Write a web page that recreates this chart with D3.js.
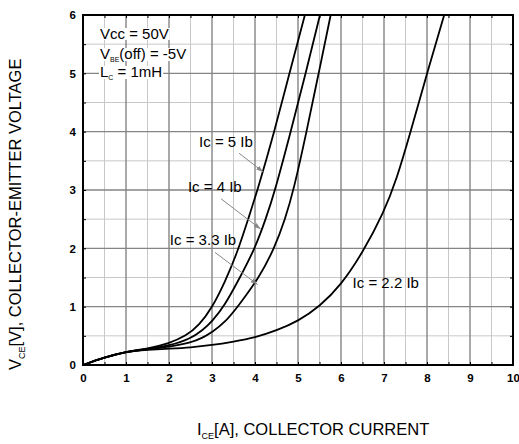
<!DOCTYPE html>
<html><head><meta charset="utf-8">
<script src="https://cdn.jsdelivr.net/npm/d3@7"></script>
<style>
body{margin:0;background:#fff;}
text{font-family:Arial,"Liberation Sans",sans-serif;}
</style></head>
<body>
<svg id="c" width="519" height="444"></svg>
<script>
// ---- data ----
const xTicks = [0,1,2,3,4,5,6,7,8,9,10];
const yTicks = [0,1,2,3,4,5,6];
const seriesNames = ["Ic = 5 Ib","Ic = 4 Ib","Ic = 3.3 Ib","Ic = 2.2 Ib"];
const ic5_I  = [0,0.5,1,1.5,2,2.4,2.7,3.0,3.3,3.6,3.84,4.06,4.45,4.8,5.16];
const ic5_V  = [0,0.13,0.23,0.28,0.37,0.5,0.68,0.98,1.42,1.95,2.5,3,4,5,6];
const ic4_I  = [0,0.5,1,1.5,2,2.5,2.79,3.0,3.28,3.65,4.0,4.25,4.47,4.83,5.18,5.51];
const ic4_V  = [0,0.13,0.23,0.27,0.33,0.45,0.6,0.75,1,1.5,2,2.5,3,4,5,6];
const ic33_I = [0,0.5,1,1.5,2,2.5,2.79,3.0,3.3,3.6,4.1,4.45,4.7,4.9,5.2,5.48,5.76];
const ic33_V = [0,0.13,0.23,0.27,0.31,0.38,0.47,0.56,0.73,1,1.5,2,2.5,3,4,5,6];
const ic22_I = [0,0.5,1,1.5,2,2.5,3,3.5,4,4.5,5,5.5,6,6.5,7,7.3,7.6,8,8.4];
const ic22_V = [0,0.13,0.23,0.26,0.28,0.3,0.34,0.4,0.47,0.59,0.75,1.0,1.37,1.92,2.62,3.2,3.95,5,6];
const condLines = [["Vcc = 50V"],["V","BE","(off) = -5V"],["L","C"," = 1mH"]];

// ---- layout ----
const svg = d3.select("#c");
const x = d3.scaleLinear().domain([0,10]).range([83,513]);
const y = d3.scaleLinear().domain([0,6]).range([365,15]);

// grid
const minorX = d3.range(0.5,10,1), minorY = d3.range(0.5,6,1);
const g = svg.append("g");
g.selectAll(".mx").data(minorX).join("line").attr("x1",d=>x(d)).attr("x2",d=>x(d)).attr("y1",y(0)).attr("y2",y(6)).attr("stroke","#c8c8c8").attr("stroke-width",1);
g.selectAll(".my").data(minorY).join("line").attr("y1",d=>y(d)).attr("y2",d=>y(d)).attr("x1",x(0)).attr("x2",x(10)).attr("stroke","#c8c8c8").attr("stroke-width",1);
g.selectAll(".Mx").data(xTicks.slice(1,-1)).join("line").attr("x1",d=>x(d)).attr("x2",d=>x(d)).attr("y1",y(0)).attr("y2",y(6)).attr("stroke","#858585").attr("stroke-width",1.4);
g.selectAll(".My").data(yTicks.slice(1,-1)).join("line").attr("y1",d=>y(d)).attr("y2",d=>y(d)).attr("x1",x(0)).attr("x2",x(10)).attr("stroke","#858585").attr("stroke-width",1.4);

// condition text with white background
const condBg = svg.append("g"), cond = svg.append("g");
const condBase = [39,59,77];
condLines.forEach((parts,i)=>{
  const t = cond.append("text").attr("x",x(0)+17).attr("y",condBase[i]).attr("font-size",15).attr("fill","#000");
  if(parts.length===1){ t.text(parts[0]); }
  else {
    t.append("tspan").text(parts[0]);
    t.append("tspan").attr("font-size",7).attr("dy",3).text(parts[1]);
    t.append("tspan").attr("dy",-3).text(parts[2]);
  }
  const bb = t.node().getBBox();
  condBg.append("rect").attr("x",bb.x-1).attr("y",bb.y+3).attr("width",bb.width+2).attr("height",bb.height-5).attr("fill","#fff");
});

// curves
const line = d3.line().x(d=>x(d[0])).y(d=>y(d[1])).curve(d3.curveBasis);
const curves = [[ic5_I,ic5_V],[ic4_I,ic4_V],[ic33_I,ic33_V],[ic22_I,ic22_V]];
svg.append("g").selectAll("path").data(curves).join("path")
  .attr("d",c=>line(d3.zip(c[0],c[1])))
  .attr("fill","none").attr("stroke","#000").attr("stroke-width",1.8);

// labels & arrows
svg.append("defs").append("marker").attr("id","ah").attr("viewBox","0 0 10 10").attr("refX",10).attr("refY",5)
  .attr("markerWidth",7).attr("markerHeight",7).attr("orient","auto")
  .append("path").attr("d","M0,1.5L10,5L0,8.5z").attr("fill","#888");
const labelPos = [[2.7,3.74],[2.44,2.97],[2.02,2.06],[6.27,1.32]];
const arrows = [[[3.63,3.63],[4.19,3.31]],[[3.21,2.85],[4.13,2.33]],[[3.07,1.93],[4.06,1.38]]];
svg.append("g").selectAll("text").data(seriesNames).join("text")
  .attr("x",(d,i)=>x(labelPos[i][0])).attr("y",(d,i)=>y(labelPos[i][1]))
  .attr("font-size",15).text(d=>d);
svg.append("g").selectAll("line").data(arrows).join("line")
  .attr("x1",d=>x(d[0][0])).attr("y1",d=>y(d[0][1])).attr("x2",d=>x(d[1][0])).attr("y2",d=>y(d[1][1]))
  .attr("stroke","#888").attr("stroke-width",1).attr("marker-end","url(#ah)");

// inward small ticks on all sides
const allX = d3.range(0,10.01,0.5), allY = d3.range(0,6.01,0.5);
svg.append("g").attr("transform",`translate(0,${y(0)})`).call(d3.axisBottom(x).tickValues(allX).tickSize(-3).tickFormat("")).call(a=>a.select(".domain").remove()).selectAll("line").attr("stroke","#000");
svg.append("g").attr("transform",`translate(0,${y(6)})`).call(d3.axisTop(x).tickValues(allX).tickSize(-3).tickFormat("")).call(a=>a.select(".domain").remove()).selectAll("line").attr("stroke","#000");
svg.append("g").attr("transform",`translate(${x(0)},0)`).call(d3.axisLeft(y).tickValues(allY).tickSize(-3).tickFormat("")).call(a=>a.select(".domain").remove()).selectAll("line").attr("stroke","#000");
svg.append("g").attr("transform",`translate(${x(10)},0)`).call(d3.axisRight(y).tickValues(allY).tickSize(-3).tickFormat("")).call(a=>a.select(".domain").remove()).selectAll("line").attr("stroke","#000");

// frame
svg.append("rect").attr("x",x(0)).attr("y",y(6)).attr("width",x(10)-x(0)).attr("height",y(0)-y(6)).attr("fill","none").attr("stroke","#000").attr("stroke-width",2);

// tick labels
const ax = svg.append("g").attr("transform",`translate(0,${y(0)})`).call(d3.axisBottom(x).tickValues(xTicks).tickSize(0).tickPadding(9).tickFormat(d3.format("d")));
ax.select(".domain").remove();
ax.selectAll("text").attr("font-size",11.5).attr("font-weight","bold").attr("font-family","Arial, 'Liberation Sans', sans-serif").attr("fill","#000");
const ay = svg.append("g").attr("transform",`translate(${x(0)},0)`).call(d3.axisLeft(y).tickValues(yTicks).tickSize(0).tickPadding(7).tickFormat(d3.format("d")));
ay.select(".domain").remove();
ay.selectAll("text").attr("font-size",11.5).attr("font-weight","bold").attr("font-family","Arial, 'Liberation Sans', sans-serif").attr("fill","#000");

// axis titles
const xt = svg.append("text").attr("x",197).attr("y",435).attr("font-size",16.5);
xt.append("tspan").text("I");
xt.append("tspan").attr("font-size",9).attr("dy",4).text("CE");
xt.append("tspan").attr("dy",-4).text("[A], COLLECTOR CURRENT");
const yt = svg.append("text").attr("transform","translate(21,370) rotate(-90)").attr("font-size",16.5);
yt.append("tspan").text("V");
yt.append("tspan").attr("font-size",9).attr("dy",4).text("CE");
yt.append("tspan").attr("dy",-4).text("[V], COLLECTOR-EMITTER VOLTAGE");
</script>
</body></html>
